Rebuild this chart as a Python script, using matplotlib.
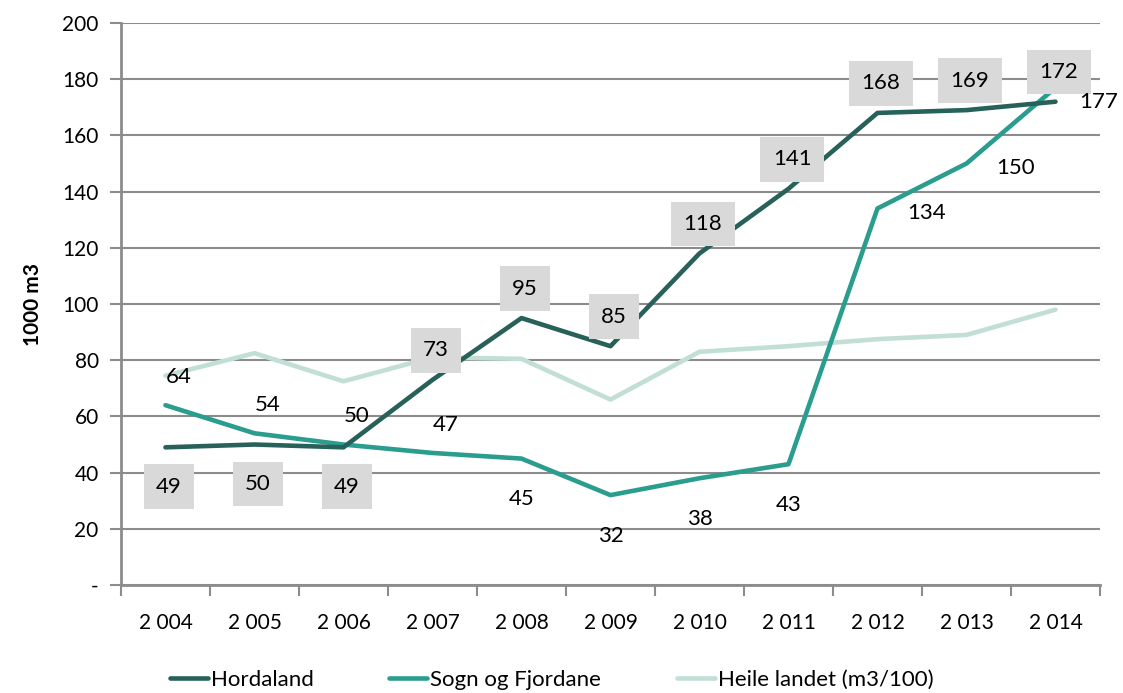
import matplotlib.pyplot as plt
import numpy as np

plt.rcParams['font.family'] = ['Lato', 'DejaVu Sans']

years = ['2 004', '2 005', '2 006', '2 007', '2 008', '2 009', '2 010', '2 011', '2 012', '2 013', '2 014']
hordaland = [49, 50, 49, 73, 95, 85, 118, 141, 168, 169, 172]
sogn = [64, 54, 50, 47, 45, 32, 38, 43, 134, 150, 177]
heile = [74.5, 82.5, 72.5, 81, 80.5, 66, 83, 85, 87.5, 89, 98]

c_hord = '#276159'
c_sogn = '#2a9d8f'
c_heile = '#c2dfd3'
c_grid = '#8c8c8c'

fig = plt.figure(figsize=(11.23, 6.93), dpi=100)
ax = fig.add_axes([0.1077, 0.1558, 0.9795 - 0.1077, 0.9668 - 0.1558])

x = np.arange(len(years))
ax.plot(x, hordaland, color=c_hord, lw=3.3, label='Hordaland', zorder=4, solid_capstyle='round')
ax.plot(x, sogn, color=c_sogn, lw=3.3, label='Sogn og Fjordane', zorder=3, solid_capstyle='round')
ax.plot(x, heile, color=c_heile, lw=3.3, label='Heile landet (m3/100)', zorder=2, solid_capstyle='round')

# etiketter Hordaland (grå boks)
for i, v in enumerate(hordaland):
    if i < 3:
        off = -14
    else:
        off = 10.5
    ax.text(x[i] + 0.04, v + off, str(v), ha='center', va='center', fontsize=16, zorder=6,
            bbox=dict(boxstyle='square,pad=0.55', fc='#d9d9d9', ec='none'))

# etiketter Sogn og Fjordane
for i, v in enumerate(sogn):
    ha = 'center'
    if i < 4:
        xi, yi = x[i] + 0.15, v + 10
    elif i < 8:
        xi, yi = x[i], v - 14.5
    elif i < 10:
        xi, yi = x[i] + 0.55, v - 1.5
    else:
        xi, yi = x[i] + 0.27, v - 5
        ha = 'left'
    ax.text(xi, yi, str(v), ha=ha, va='center', fontsize=16, zorder=7, clip_on=False)

ax.set_xlim(-0.5, 10.5)
ax.set_ylim(0, 200)
ax.set_yticks(range(0, 201, 20))
ax.set_yticklabels(['-'] + [str(t) for t in range(20, 201, 20)], fontsize=15)
ax.set_xticks(x)
ax.set_xticklabels(years, fontsize=15)
ax.set_xticks(np.arange(-0.5, 11, 1), minor=True)
ax.tick_params(axis='x', which='major', length=0, pad=20)
ax.tick_params(axis='x', which='minor', length=8, color=c_grid, width=1.5)
ax.tick_params(axis='y', length=8, color=c_grid, width=1.5, pad=8)

ax.grid(axis='y', color=c_grid, lw=1.5, zorder=0)
ax.set_axisbelow(True)
for s in ['top', 'right']:
    ax.spines[s].set_visible(False)
ax.spines['left'].set_color(c_grid)
ax.spines['left'].set_linewidth(2)
ax.spines['bottom'].set_color(c_grid)
ax.spines['bottom'].set_linewidth(2)

ax.set_ylabel('1000 m3', fontsize=15, fontweight='bold', labelpad=14)

ax.legend(loc='upper center', bbox_to_anchor=(0.44, -0.115), ncol=3, frameon=False,
          fontsize=16, handlelength=1.7, handletextpad=0.15, columnspacing=3.4)

plt.savefig('out.png')
